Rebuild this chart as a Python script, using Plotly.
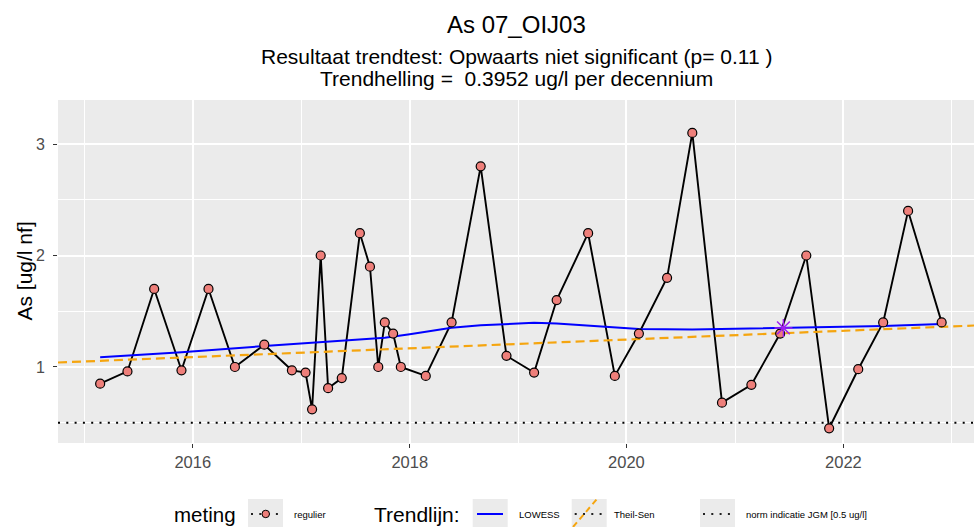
import plotly.graph_objects as go

# ---------------- data ----------------
meas_dates = [
    "2015-02-23", "2015-05-26", "2015-08-24", "2015-11-24", "2016-02-23",
    "2016-05-22", "2016-08-29", "2016-11-30", "2017-01-15", "2017-02-06",
    "2017-03-07", "2017-04-01", "2017-05-17", "2017-07-17", "2017-08-20",
    "2017-09-17", "2017-10-09", "2017-11-06", "2017-12-02", "2018-02-24",
    "2018-05-22", "2018-08-28", "2018-11-23", "2019-02-24", "2019-05-11",
    "2019-08-25", "2019-11-23", "2020-02-12", "2020-05-17", "2020-08-10",
    "2020-11-18", "2021-02-25", "2021-06-02", "2021-08-29", "2021-11-14",
    "2022-02-20", "2022-05-15", "2022-08-07", "2022-11-28",
]
meas_values = [
    0.85, 0.96, 1.70, 0.97, 1.70,
    1.00, 1.20, 0.97, 0.95, 0.62,
    2.00, 0.81, 0.90, 2.20, 1.90,
    1.00, 1.40, 1.30, 1.00, 0.92,
    1.40, 2.80, 1.10, 0.95, 1.60,
    2.20, 0.92, 1.30, 1.80, 3.10,
    0.68, 0.84, 1.30, 2.00, 0.45,
    0.98, 1.40, 2.40, 1.40,
]

lowess_dates = [
    "2015-02-23", "2015-11-24", "2016-08-29", "2017-05-17", "2017-10-09",
    "2018-01-01", "2018-05-22", "2018-08-28", "2018-11-23", "2019-02-24",
    "2019-05-11", "2019-11-23", "2020-02-12", "2020-08-10", "2021-06-02",
    "2022-05-15", "2022-11-28",
]
lowess_values = [
    1.087, 1.132, 1.188, 1.233, 1.262,
    1.293, 1.352, 1.374, 1.386, 1.397,
    1.390, 1.352, 1.340, 1.337, 1.352,
    1.367, 1.385,
]

theil_dates = ["2014-10-04", "2023-03-17"]
theil_values = [1.040, 1.372]

star_date = ["2021-06-13"]
star_value = [1.35]

norm_value = 0.5

x_range = ["2014-10-04", "2023-03-17"]
y_range = [0.318, 3.395]

title_text = "As 07_OIJ03"
subtitle_1 = "Resultaat trendtest: Opwaarts niet significant (p= 0.11 )"
subtitle_2 = "Trendhelling =  0.3952 ug/l per decennium"
y_title = "As [ug/l nf]"

FONT = "Liberation Sans, Arial, Helvetica, sans-serif"
W, H = 974, 527
ML, MR, MT, MB = 58, 0, 100, 84
PW, PH = W - ML - MR, H - MT - MB


def px(xp):
    return (xp - ML) / PW


def py(yp):
    return (H - MB - yp) / PH


fig = go.Figure()

# measurements line
fig.add_trace(go.Scatter(
    x=meas_dates, y=meas_values, mode="lines",
    line=dict(color="black", width=1.9), showlegend=False, hoverinfo="skip"))
# Theil-Sen
fig.add_trace(go.Scatter(
    x=theil_dates, y=theil_values, mode="lines",
    line=dict(color="#F5A50F", width=2.2, dash="9px,5px"), showlegend=False))
# LOWESS
fig.add_trace(go.Scatter(
    x=lowess_dates, y=lowess_values, mode="lines",
    line=dict(color="#0000FF", width=2), showlegend=False))
# points
fig.add_trace(go.Scatter(
    x=meas_dates, y=meas_values, mode="markers",
    marker=dict(color="#EE7F7A", size=9, line=dict(color="black", width=1.2)),
    showlegend=False))
# star
fig.add_trace(go.Scatter(
    x=star_date, y=star_value, mode="markers",
    marker=dict(symbol="asterisk-open", size=15, color="#A020F0",
                line=dict(color="#A020F0", width=1.5)),
    showlegend=False))

shapes = [
    dict(type="line", xref="paper", yref="y", x0=0, x1=1, y0=norm_value, y1=norm_value,
         line=dict(color="black", width=2, dash="2px,6.3px"), layer="above"),
]

# ---------- manual legend ----------
key_y0, key_y1 = py(499), py(527)
key_mid = py(514)
legend_boxes = [(248, 283), (472.7, 507.7), (571.7, 606.7), (700, 735)]
for (a, b) in legend_boxes:
    shapes.append(dict(type="rect", xref="paper", yref="paper", x0=px(a), x1=px(b),
                       y0=key_y1, y1=key_y0, fillcolor="#EBEBEB", line=dict(width=0),
                       layer="below"))
# dotted line in keys 1,3,4
for (a, b) in [legend_boxes[0], legend_boxes[2], legend_boxes[3]]:
    shapes.append(dict(type="line", xref="paper", yref="paper", x0=px(a + 3), x1=px(b - 3),
                       y0=key_mid, y1=key_mid,
                       line=dict(color="#222222", width=2, dash="2px,6.3px")))
# LOWESS key
shapes.append(dict(type="line", xref="paper", yref="paper", x0=px(477), x1=px(503),
                   y0=key_mid, y1=key_mid, line=dict(color="#0000FF", width=2)))
# Theil-Sen key (diagonal dashed)
shapes.append(dict(type="line", xref="paper", yref="paper", x0=px(573), x1=px(597),
                   y0=py(527), y1=py(499), line=dict(color="#F5A50F", width=2, dash="6px,4px")))
# point in key 1
shapes.append(dict(type="circle", xref="paper", yref="paper",
                   x0=px(262), x1=px(269.5), y0=py(510.2), y1=py(517.7),
                   fillcolor="#EE7F7A", line=dict(color="black", width=1)))

annotations = [
    dict(text=title_text, xref="paper", yref="paper", x=0.5, y=py(25), xanchor="center",
         yanchor="middle", showarrow=False, font=dict(family=FONT, size=24, color="black")),
    dict(text=subtitle_1, xref="paper", yref="paper", x=0.5, y=py(57), xanchor="center",
         yanchor="middle", showarrow=False, font=dict(family=FONT, size=21, color="black")),
    dict(text=subtitle_2, xref="paper", yref="paper", x=0.5, y=py(79), xanchor="center",
         yanchor="middle", showarrow=False, font=dict(family=FONT, size=21, color="black")),
    dict(text=y_title, xref="paper", yref="paper", x=px(24), y=0.5, xanchor="center",
         yanchor="middle", textangle=-90, showarrow=False,
         font=dict(family=FONT, size=21, color="black")),
    dict(text="meting", xref="paper", yref="paper", x=px(173), y=py(514), xanchor="left",
         yanchor="middle", showarrow=False, font=dict(family=FONT, size=20.5, color="black")),
    dict(text="regulier", xref="paper", yref="paper", x=px(293), y=py(514), xanchor="left",
         yanchor="middle", showarrow=False, font=dict(family=FONT, size=9.5, color="black")),
    dict(text="Trendlijn:", xref="paper", yref="paper", x=px(372.5), y=py(514), xanchor="left",
         yanchor="middle", showarrow=False, font=dict(family=FONT, size=21, color="black")),
    dict(text="LOWESS", xref="paper", yref="paper", x=px(517.5), y=py(514), xanchor="left",
         yanchor="middle", showarrow=False, font=dict(family=FONT, size=9.5, color="black")),
    dict(text="Theil-Sen", xref="paper", yref="paper", x=px(613), y=py(514), xanchor="left",
         yanchor="middle", showarrow=False, font=dict(family=FONT, size=9.5, color="black")),
    dict(text="norm indicatie JGM [0.5 ug/l]", xref="paper", yref="paper", x=px(745),
         y=py(514), xanchor="left", yanchor="middle", showarrow=False,
         font=dict(family=FONT, size=9.5, color="black")),
]
for a in annotations:
    a["borderpad"] = 0

fig.update_layout(
    width=W, height=H,
    margin=dict(l=ML, r=MR, t=MT, b=MB, pad=0),
    paper_bgcolor="white", plot_bgcolor="#EBEBEB",
    font=dict(family=FONT, color="#4D4D4D"),
    showlegend=False,
    shapes=shapes, annotations=annotations,
    xaxis=dict(
        type="date", range=x_range, tick0="2016-01-01", dtick="M24", tickformat="%Y",
        showgrid=True, gridcolor="white", gridwidth=1.6, zeroline=False,
        ticks="outside", ticklen=4, tickwidth=1.2, tickcolor="#333333",
        tickfont=dict(family=FONT, size=16.5, color="#4D4D4D"),
        minor=dict(tick0="2015-01-01", dtick="M12", showgrid=True, gridcolor="white",
                   gridwidth=0.8, ticks=""),
        showline=False, fixedrange=True, automargin=False,
    ),
    yaxis=dict(
        range=y_range, tick0=0, dtick=1, showgrid=True, gridcolor="white", gridwidth=1.6,
        zeroline=False, ticks="outside", ticklen=4, tickwidth=1.2, tickcolor="#333333",
        tickfont=dict(family=FONT, size=16, color="#4D4D4D"), ticklabelstandoff=5,
        minor=dict(tick0=0.5, dtick=1, showgrid=True, gridcolor="white", gridwidth=0.8, ticks=""),
        showline=False, fixedrange=True, automargin=False,
    ),
)

fig.write_html("out.html", config={"displayModeBar": False},
               post_script="document.body.style.margin='0';document.body.style.overflow='hidden';")
